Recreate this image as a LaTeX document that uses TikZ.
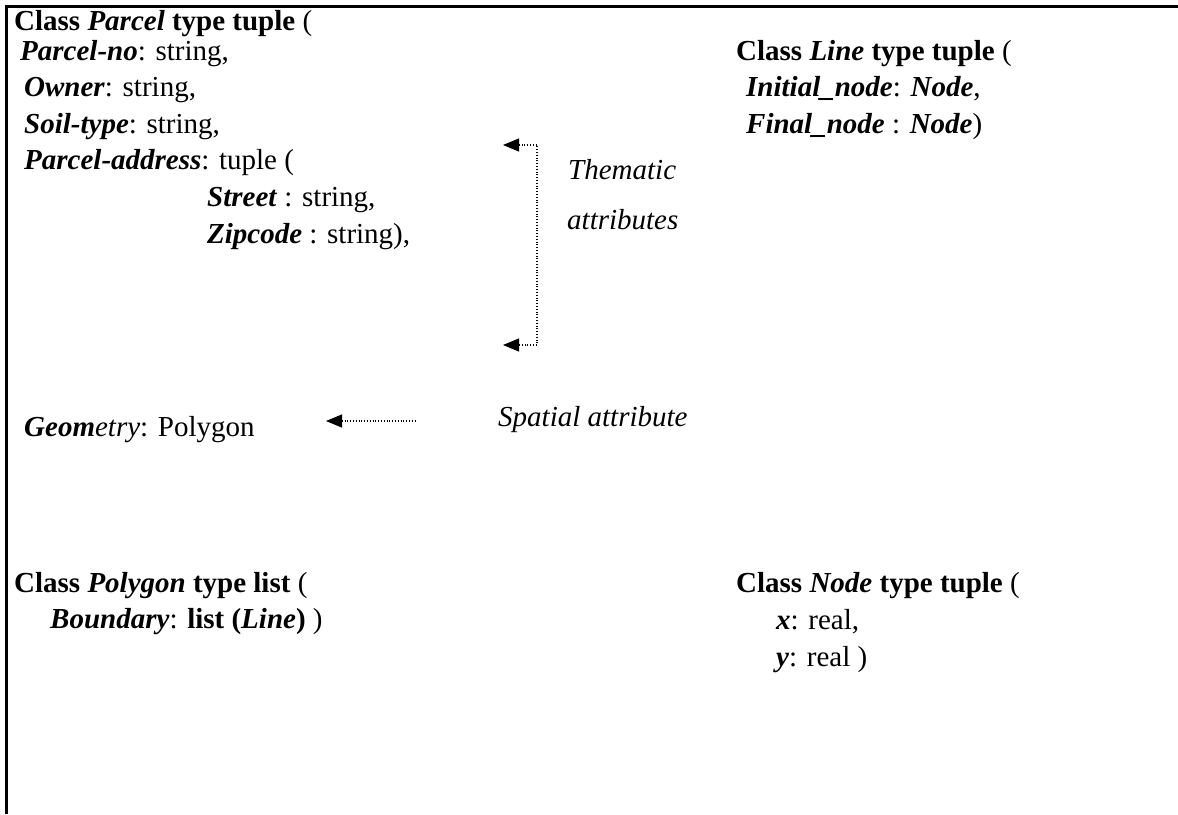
\documentclass[tikz,border=0pt]{standalone}
\usepackage{fontspec}
\setmainfont{Liberation Serif}
\usetikzlibrary{arrows.meta}
\newcommand{\bi}[1]{\textbf{\textit{#1}}}
\begin{document}
\begin{tikzpicture}[x=1pt,y=-1pt,
  txt/.style={anchor=base west, inner sep=0pt, font=\fontsize{29}{34}\selectfont},
  frameline/.style={line width=2.3pt},
  pointer/.style={line width=1.1pt, dash pattern=on 1.1pt off 1.7pt,
    {Triangle[length=16pt,width=13pt]}-{Triangle[length=16pt,width=13pt]}},
  onepointer/.style={line width=1.1pt, dash pattern=on 1.1pt off 1.7pt,
    {Triangle[length=16pt,width=13pt]}-}]
\useasboundingbox (0,0) rectangle (1178,814);

% open frame: top edge and left edge
\draw[frameline] (1178,6.5) -- (6.5,6.5) -- (6.5,814);

% class Parcel
\node[txt] (parcel)  at (14,30)  {\textbf{Class \textit{Parcel} type tuple} (};
\node[txt] (pno)     at (20,60)  {\bi{Parcel-no}: string,};
\node[txt] (owner)   at (24,96)  {\bi{Owner}: string,};
\node[txt] (soil)    at (24,133) {\bi{Soil-type}: string,};
\node[txt] (paddr)   at (24,169) {\bi{Parcel-address}: tuple (};
\node[txt] (street)  at (207,206) {\bi{Street} : string,};
\node[txt] (zip)     at (207,243) {\bi{Zipcode} : string),};
\node[txt] (geom)    at (24,436) {\bi{Geom}\textit{etry}: Polygon};

% class Line
\node[txt] (line)    at (736,60)  {\textbf{Class \textit{Line} type tuple} (};
\node[txt] (inode)   at (746,96)  {\bi{Initial\_node}: \bi{Node},};
\node[txt] (fnode)   at (746,133) {\bi{Final\_node} : \bi{Node})};

% class Polygon
\node[txt] (poly)    at (14,592)  {\textbf{Class \textit{Polygon} type list} (};
\node[txt] (bound)   at (50,628)  {\bi{Boundary}: \textbf{list (\textit{Line})} )};

% class Node
\node[txt] (node)    at (736,592) {\textbf{Class \textit{Node} type tuple} (};
\node[txt] (nx)      at (776,629) {\bi{x}: real,};
\node[txt] (ny)      at (776,666) {\bi{y}: real )};

% annotations
\node[txt] (them)    at (568,179) {\textit{Thematic}};
\node[txt] (attr)    at (567,229) {\textit{attributes}};
\node[txt] (spat)    at (498,426) {\textit{Spatial attribute}};

% bracket for the thematic attributes
\coordinate (thtop) at (503,145);
\coordinate (thbot) at (503,345);
\coordinate (thx)   at (537,0);
\draw[pointer] (thtop) -- (thtop -| thx) -- (thbot -| thx) -- (thbot);

% pointer for the spatial attribute
\coordinate (sptip) at (326,421);
\coordinate (spend) at (416,421);
\draw[onepointer] (sptip) -- (spend);
\end{tikzpicture}
\end{document}
